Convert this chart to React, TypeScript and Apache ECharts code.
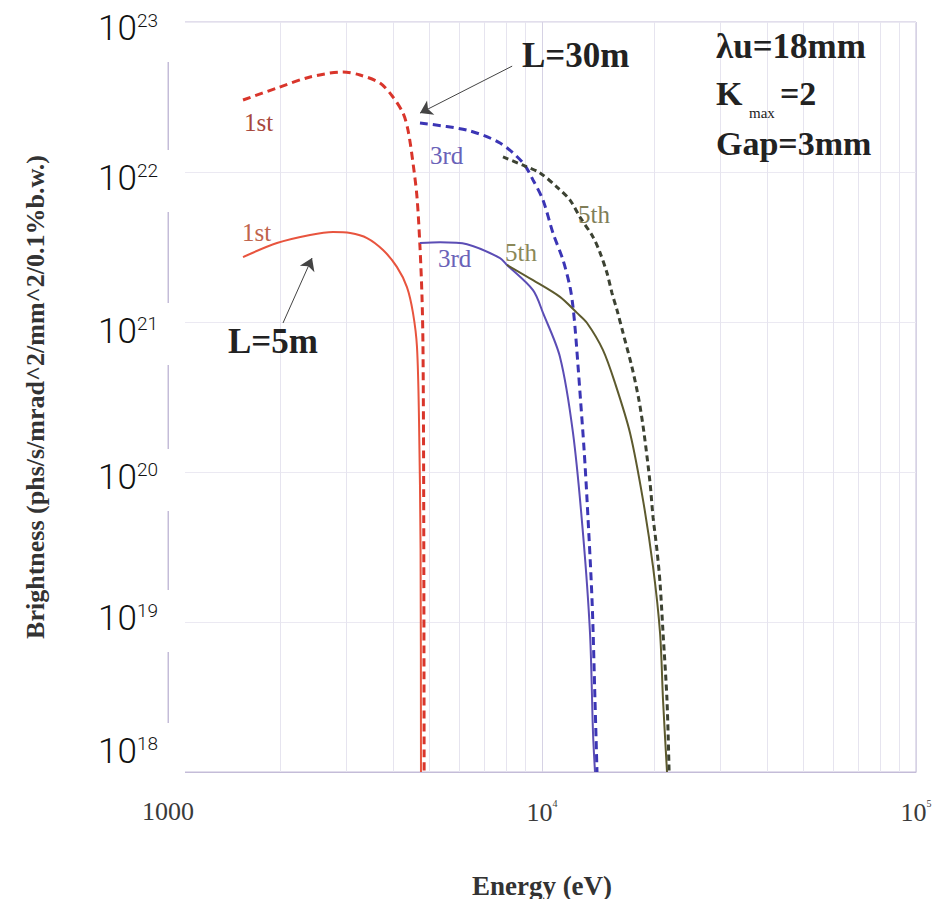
import React, { useEffect, useRef } from "react";
import * as echarts from "echarts";

// ---------- axis ticks ----------
const xTicks = [1000, 10000, 100000];
const yTicks = [1e18, 1e19, 1e20, 1e21, 1e22, 1e23];
const minorGridX = [2000, 3000, 4000, 5000, 6000, 7000, 8000, 9000, 20000, 30000, 40000, 50000, 60000, 70000, 80000, 90000];

// ---------- series data: [energy eV, brightness] ----------
const L30_1st: [number, number][] = [
  [1587, 3.02e22], [1956, 3.63e22], [2398, 4.3e22], [2937, 4.64e22], [3261, 4.43e22],
  [3688, 3.92e22], [3996, 3.16e22], [4250, 2.47e22], [4383, 1.9e22], [4519, 1.15e22],
  [4632, 6.8e21], [4718, 3.16e21], [4777, 1.47e21], [4806, 6.8e20], [4825, 1e20], [4840, 1e18],
];
const L5_1st: [number, number][] = [
  [1587, 2.71e21], [1956, 3.36e21], [2398, 3.8e21], [2762, 3.98e21], [3070, 3.92e21],
  [3405, 3.63e21], [3758, 3.02e21], [4092, 2.33e21], [4354, 1.71e21], [4519, 1.15e21],
  [4632, 6.8e20], [4690, 2.2e20], [4735, 3e19], [4747, 1e18],
];
const L30_3rd: [number, number][] = [
  [4718, 2.12e22], [6302, 1.9e22], [7723, 1.56e22], [8897, 1.15e22], [9461, 8.85e21],
  [10062, 6.5e21], [10700, 3.92e21], [11380, 2.59e21], [11882, 1.71e21], [12103, 1.26e21],
  [12290, 8.45e20], [12490, 5.0e20], [12680, 3.0e20], [12960, 1.4e20], [13196, 6.5e19],
  [13608, 1.4e19], [13858, 3.0e18], [14031, 1e18],
];
const L5_3rd: [number, number][] = [
  [4718, 3.36e21], [5337, 3.4e21], [6302, 3.3e21], [7723, 2.67e21], [8062, 2.4e21],
  [9461, 1.63e21], [10062, 1.15e21], [11170, 5.85e20], [12103, 1.82e20], [12871, 3.9e19],
  [13440, 8.4e18], [13690, 1.82e18], [13858, 1e18],
];
const L30_5th: [number, number][] = [
  [7865, 1.26e22], [8897, 1.11e22], [9878, 9.85e21], [10967, 7.94e21], [11882, 6.5e21],
  [12636, 5.0e21], [13690, 3.69e21], [14293, 2.9e21], [14922, 2.12e21], [15387, 1.56e21],
  [15870, 1.2e21], [16470, 8.45e20], [17400, 5.0e20], [18170, 3.0e20], [18740, 1.82e20],
  [19450, 8.45e19], [19812, 5.0e19], [20300, 3.0e19], [20684, 1.82e19], [21070, 8.45e18],
  [21590, 3.0e18], [21870, 1e18],
];
const L5_5th: [number, number][] = [
  [8062, 2.4e21], [9461, 1.9e21], [11170, 1.47e21], [12405, 1.15e21], [13196, 9.85e20],
  [14558, 6.5e20], [15676, 3.92e20], [17195, 1.82e20], [18627, 6.5e19], [19812, 2.33e19],
  [20684, 8.45e18], [21070, 3.0e18], [21590, 1e18],
];

// annotation arrows (data coords): [from, to]
const arrow30m: [number, number][] = [[8322, 5.08e22], [4718, 2.47e22]];
const arrow5m: [number, number][] = [[2030, 9.85e20], [2427, 2.67e21]];

// ---------- layout / style ----------
const SERIF = '"Liberation Serif", "Times New Roman", serif';
const SANS = 'Roboto, "Liberation Sans", Arial, sans-serif';
const yLabelShift = [-21, -4, 5, 9, 6, 6];
const AXIS_COLOR = "#c4bcd8";

function txt(id: string, text: string, x: number, y: number, font: string, fill: string) {
  return {
    type: "text",
    id,
    x,
    y,
    z: 50,
    style: {
      text,
      font,
      fill,
      align: "left",
      verticalAlign: "middle",
      textAlign: "left",
      textVerticalAlign: "middle",
    },
  };
}

export default function App() {
  const ref = useRef<HTMLDivElement>(null);
  useEffect(() => {
    document.body.style.margin = "0";
    const chart = echarts.init(ref.current!, null, { renderer: "svg" });

    const lineSeries = (name: string, data: [number, number][], color: string, dashed: number[] | null, width: number) => ({
      type: "line",
      name,
      data,
      showSymbol: false,
      symbol: "none",
      smooth: 0.3,
      clip: true,
      z: 3,
      lineStyle: { color, width, type: dashed ? dashed : "solid" },
    });

    const option: any = {
      animation: false,
      backgroundColor: "#ffffff",
      grid: {
        left: 168, right: 21, top: 22, bottom: 127,
        show: true, borderColor: AXIS_COLOR, borderWidth: 1,
        containLabel: false, outerBoundsMode: "none",
      },
      xAxis: {
        type: "log",
        logBase: 10,
        min: xTicks[0],
        max: xTicks[xTicks.length - 1],
        axisLine: { show: true, lineStyle: { color: AXIS_COLOR, width: 1 } },
        axisTick: { show: false },
        splitLine: { show: true, lineStyle: { color: "#d6d2e4", width: 1 } },
        axisLabel: {
          margin: 26,
          color: "#3a3a3a",
          fontFamily: SERIF,
          fontSize: 26,
          formatter: (v: number) => {
            if (Math.abs(v - xTicks[0]) < 1) return String(xTicks[0]);
            return `{t|10}{s|${Math.round(Math.log10(v))}}`;
          },
          rich: {
            t: { fontFamily: SERIF, fontSize: 26, color: "#3a3a3a", lineHeight: 28 },
            s: { fontFamily: SERIF, fontSize: 10, color: "#3a3a3a", verticalAlign: "top", lineHeight: 12 },
          },
        },
        name: "Energy (eV)",
        nameLocation: "middle",
        nameGap: 100,
        nameTextStyle: { fontFamily: SERIF, fontWeight: "bold", fontSize: 27, color: "#333" },
      },
      yAxis: {
        type: "log",
        logBase: 10,
        min: yTicks[0],
        max: yTicks[yTicks.length - 1],
        axisLine: { show: true, lineStyle: { color: AXIS_COLOR, width: 1 } },
        axisTick: { show: false },
        axisLabel: { show: false },
        splitLine: { show: true, lineStyle: { color: "#ebe9f2", width: 1 } },
        name: "Brightness (phs/s/mrad^2/mm^2/0.1%b.w.)",
        nameLocation: "middle",
        nameGap: 120,
        nameRotate: 90,
        nameTextStyle: { fontFamily: SERIF, fontWeight: "bold", fontSize: 26, color: "#333" },
      },
      series: [
        {
          ...lineSeries("L=5m 1st", L5_1st, "#e8543e", null, 2),
          markLine: {
            silent: true,
            symbol: "none",
            z: 1,
            label: { show: false },
            lineStyle: { color: "#e6e4ef", width: 1, type: "solid" },
            data: minorGridX.map((v) => ({ xAxis: v })),
          },
        },
        lineSeries("L=30m 1st", L30_1st, "#d9352b", [8, 5], 3),
        lineSeries("L=5m 3rd", L5_3rd, "#5b4db5", null, 2),
        lineSeries("L=30m 3rd", L30_3rd, "#3b35b5", [8, 5], 3),
        lineSeries("L=5m 5th", L5_5th, "#5d5a2e", null, 2),
        {
          ...lineSeries("L=30m 5th", L30_5th, "#3c4232", [6, 4], 3),
          markLine: {
            silent: true,
            symbol: ["none", "arrow"],
            symbolSize: 12,
            z: 6,
            label: { show: false },
            lineStyle: { color: "#444", width: 1, type: "solid" },
            data: [
              [{ coord: arrow30m[0] }, { coord: arrow30m[1] }],
              [{ coord: arrow5m[0] }, { coord: arrow5m[1] }],
            ],
          },
        },
      ],
    };
    chart.setOption(option);

    const yLabels = yTicks.map((v, i) => {
      const p = chart.convertToPixel({ gridIndex: 0 }, [xTicks[0], v]) as number[];
      const exp = Math.round(Math.log10(v));
      return {
        type: "text",
        id: "ylab" + i,
        x: p[0] + 17,
        y: p[1] + yLabelShift[i] - 28,
        z: 60,
        style: {
          text: `{b|10}{s|${exp}}`,
          align: "right",
          verticalAlign: "top",
          textAlign: "right",
          textVerticalAlign: "top",
          backgroundColor: "#ffffff",
          padding: [11, 27, 17, 17],
          rich: {
            b: { fontSize: 35, fontFamily: SANS, fontWeight: 300, fill: "#111", lineHeight: 34 },
            s: { fontSize: 19, fontFamily: SANS, fontWeight: 300, fill: "#111", lineHeight: 22, verticalAlign: "top" },
          },
        },
      };
    });

    const b = (px: number) => `bold ${px}px ${SERIF}`;
    const r = (px: number) => `${px}px ${SERIF}`;
    const annotations = [
      txt("a1", "1st", 244, 122, r(25), "#a8483c"),
      txt("a2", "1st", 242, 232, r(25), "#c0644c"),
      txt("a3", "3rd", 430, 155, r(25), "#6a62b8"),
      txt("a4", "3rd", 438, 258, r(25), "#6a62b8"),
      txt("a5", "5th", 505, 252, r(25), "#8a8858"),
      txt("a6", "5th", 578, 214, r(25), "#807e58"),
      txt("a7", "L=30m", 522, 55, b(35), "#222"),
      txt("a8", "L=5m", 228, 341, b(35), "#222"),
      txt("a9", "λu=18mm", 716, 46, b(35), "#222"),
      txt("a10", "K", 716, 93, b(34), "#222"),
      txt("a11", "max", 749, 113, r(15), "#222"),
      txt("a12", "=2", 780, 93, b(34), "#222"),
      txt("a13", "Gap=3mm", 716, 143, b(34), "#222"),
    ];

    chart.setOption({ graphic: [...annotations, ...yLabels] });
    return () => chart.dispose();
  }, []);
  return <div ref={ref} style={{ width: 937, height: 899 }} />;
}
